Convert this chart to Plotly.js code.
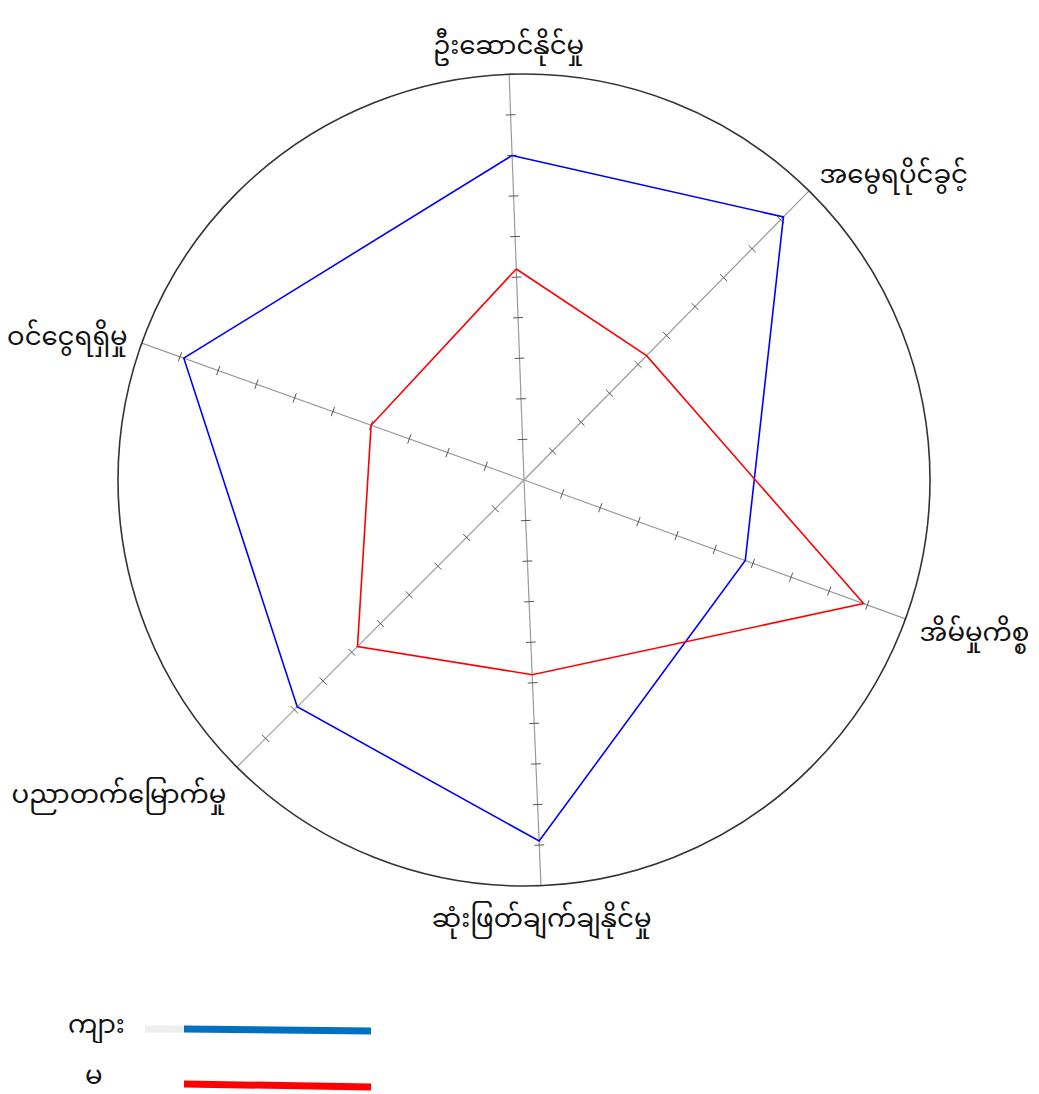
<!DOCTYPE html>
<html>
<head>
<meta charset="utf-8">
<script src="https://cdn.plot.ly/plotly-3.0.1.min.js"></script>
<style>html,body{margin:0;padding:0;background:#fff;}#chart{width:1039px;height:1094px;}</style>
</head>
<body>
<div id="chart"></div>
<script>
// ---- data ----
const categories = ['ဦးဆောင်နိုင်မှု', 'အမွေရပိုင်ခွင့်', 'အိမ်မှုကိစ္စ', 'ဆုံးဖြတ်ချက်ချနိုင်မှု', 'ပညာတက်မြောက်မှု', 'ဝင်ငွေရရှိမှု'];
const seriesNames = ['ကျား', 'မ'];
const maleValues = [80, 91, 58, 89, 79, 89];
const femaleValues = [52, 43, 89, 48, 58, 40];
const radialTickValues = [10, 20, 30, 40, 50, 60, 70, 80, 90, 100];

// ---- layout config: direction of each spoke (degrees, counterclockwise from east) ----
const spokeAngles = [92.1, 45.4, 340.0, 272.4, 225.0, 160.3];

const FONT = '"Noto Sans Myanmar", "Padauk", "Myanmar Text", "Noto Sans", sans-serif';

function closed(arr) { return arr.concat([arr[0]]); }

// tick marks on every spoke
const tickR = [], tickTheta = [], tickAngle = [];
spokeAngles.forEach(function (a) {
  radialTickValues.forEach(function (v) {
    tickR.push(v); tickTheta.push(a); tickAngle.push(-a);
  });
});

const traces = [
  {
    type: 'scatterpolar', mode: 'markers', r: tickR, theta: tickTheta,
    marker: { symbol: 'line-ns', size: 7, angle: tickAngle, line: { color: '#555', width: 1 } },
    hoverinfo: 'skip', showlegend: false
  },
  {
    type: 'scatterpolar', mode: 'lines', name: seriesNames[0],
    r: closed(maleValues), theta: closed(spokeAngles),
    line: { color: '#0000ff', width: 1.6 }, showlegend: false
  },
  {
    type: 'scatterpolar', mode: 'lines', name: seriesNames[1],
    r: closed(femaleValues), theta: closed(spokeAngles),
    line: { color: '#ff0000', width: 1.6 }, showlegend: false
  }
];

const W = 1039, H = 1094;
function px(x) { return x / W; }
function py(y) { return 1 - y / H; }

const layout = {
  width: W, height: H,
  margin: { l: 0, r: 0, t: 0, b: 0 },
  paper_bgcolor: '#ffffff',
  font: { family: FONT, color: '#111' },
  showlegend: false,
  polar: {
    domain: { x: [px(118), px(930)], y: [py(886), py(74)] },
    bgcolor: 'rgba(0,0,0,0)',
    radialaxis: {
      range: [0, 100], showline: false, showticklabels: false, showgrid: false, ticks: ''
    },
    angularaxis: {
      type: 'linear', direction: 'counterclockwise', rotation: 0,
      tickmode: 'array', tickvals: spokeAngles, ticktext: categories,
      tickfont: { size: 26, family: FONT, color: '#111' },
      ticks: 'outside', ticklen: 9, tickcolor: 'rgba(0,0,0,0)',
      showgrid: true, gridcolor: '#9a9a9a', gridwidth: 1.2,
      showline: true, linecolor: '#333', linewidth: 1.6
    }
  },
  shapes: [
    { type: 'line', xref: 'paper', yref: 'paper', x0: px(145), x1: px(184), y0: py(1029), y1: py(1029), line: { color: '#eeeeee', width: 7 } },
    { type: 'line', xref: 'paper', yref: 'paper', x0: px(184), x1: px(371), y0: py(1029), y1: py(1031), line: { color: '#0070c0', width: 7 } },
    { type: 'line', xref: 'paper', yref: 'paper', x0: px(184), x1: px(371), y0: py(1084), y1: py(1087), line: { color: '#ff0000', width: 7 } }
  ],
  annotations: [
    { xref: 'paper', yref: 'paper', x: px(96), y: py(1027), text: seriesNames[0], showarrow: false, xanchor: 'center', yanchor: 'middle', height: 32, valign: 'middle', font: { size: 26, family: FONT, color: '#111' } },
    { xref: 'paper', yref: 'paper', x: px(94), y: py(1078), text: seriesNames[1], showarrow: false, xanchor: 'center', yanchor: 'middle', height: 28, valign: 'middle', font: { size: 26, family: FONT, color: '#111' } }
  ]
};

Plotly.newPlot('chart', traces, layout, { displayModeBar: false, staticPlot: true });
</script>
</body>
</html>
